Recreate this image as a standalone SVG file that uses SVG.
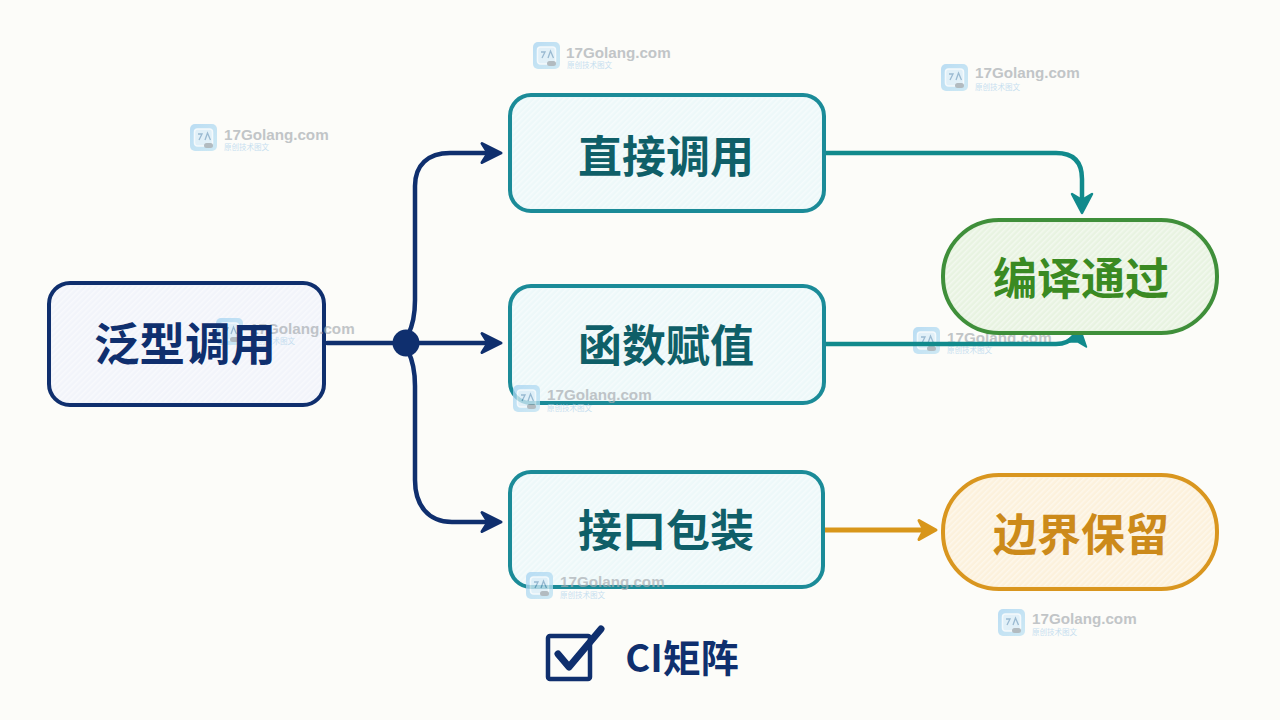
<svg xmlns="http://www.w3.org/2000/svg" width="1280" height="720" viewBox="0 0 1280 720">
<style>
.t{font-family:"Noto Sans CJK SC","Noto Sans",sans-serif;font-weight:700;text-anchor:middle;dominant-baseline:central}
.b{stroke-width:4}
.h{fill:url(#hatch);stroke:none}
.n{fill:none;stroke:#0f2f6e;stroke-width:4.500;stroke-linecap:round}
.g{fill:none;stroke:#118a8c;stroke-width:4.500;stroke-linecap:round}
.o{fill:none;stroke:#d8961a;stroke-width:5;stroke-linecap:butt}
.wm1{font-family:"Liberation Sans",Arial,sans-serif;font-weight:700;font-size:15.200px;fill:#a9aeb3;opacity:.7}
.wm2{font-family:"Noto Sans CJK SC",sans-serif;font-size:7.500px;fill:#b9d8ee;opacity:.8}
</style>
<defs>
<pattern id="hatch" width="4" height="4" patternUnits="userSpaceOnUse" patternTransform="rotate(-45)">
<rect width="4" height="1.500" fill="#ffffff" opacity=".45"/>
</pattern>
<linearGradient id="ic" x1="0" y1="0" x2="1" y2="1"><stop offset="0" stop-color="#a5d3f2"/><stop offset="1" stop-color="#bfe3f3"/></linearGradient>
<g id="icon" opacity=".75">
<rect width="27" height="27" rx="5" fill="url(#ic)"/>
<rect x="4.500" y="5" width="18" height="17" rx="3" fill="#d8ecf8" stroke="#f2f9fd" stroke-width="1.500"/>
<path d="M8 10h4l-3 6M15 16l2.500-7 3 7" fill="none" stroke="#7aa4c4" stroke-width="1.300"/>
<rect x="14" y="19" width="9" height="5" rx="2.500" fill="#9aa6ae"/>
</g>
<marker id="an" markerUnits="userSpaceOnUse" markerWidth="32" markerHeight="34" refX="18" refY="17" orient="auto">
<path d="M6 7.500 L25 17 L6 26.500 L12 17 Z" fill="#0f2f6e" stroke="#0f2f6e" stroke-width="3" stroke-linejoin="round"/>
</marker>
<marker id="ag" markerUnits="userSpaceOnUse" markerWidth="32" markerHeight="34" refX="18" refY="17" orient="auto">
<path d="M6 7 L25 17 L6 27 L12 17 Z" fill="#118a8c" stroke="#118a8c" stroke-width="2.500" stroke-linejoin="round"/>
</marker>
<marker id="ao" markerUnits="userSpaceOnUse" markerWidth="32" markerHeight="34" refX="18" refY="17" orient="auto">
<path d="M8 7.500 L25 17 L8 26.500 L13 17 Z" fill="#d8961a" stroke="#d8961a" stroke-width="3" stroke-linejoin="round"/>
</marker>
</defs>
<rect width="1280" height="720" fill="#fcfcf9"/>

<g id="watermark-under">
<use href="#icon" x="913" y="327"/><text class="wm1" x="947" y="343">17Golang.com</text><text class="wm2" x="947" y="353">原创技术图文</text>
</g>

<g id="connectors">
<path class="n" d="M327 343H494" marker-end="url(#an)"/>
<path class="n" d="M408 335C413 325 415 315 415 300V186C415 165 428 153 450 153H494" marker-end="url(#an)"/>
<path class="n" d="M408 351C413 361 415 371 415 386V480C415 505 428 522 452 522H494" marker-end="url(#an)"/>
<circle cx="406" cy="343" r="13.500" fill="#0f2f6e"/>
<path class="g" d="M826 153H1056Q1082 153 1082 179V206" marker-end="url(#ag)"/>
<path class="g" d="M826 344H1056Q1068 344 1076 335"/>
<path d="M1080 328L1086.500 347L1078 342L1066 342Z" fill="#118a8c" stroke="#118a8c" stroke-width="1.500" stroke-linejoin="round"/>
<path class="o" d="M825 530H929" marker-end="url(#ao)"/>
</g>

<g id="node-generic">
<rect class="b" x="49" y="283" width="275" height="122" rx="21" fill="#f2f4fa" stroke="#0f2f6e"/>
<rect class="h" x="52" y="286" width="269" height="116" rx="18"/>
<use href="#icon" x="216" y="318"/><text class="wm1" x="250" y="334">17Golang.com</text><text class="wm2" x="250" y="344">原创技术图文</text>
<text class="t" x="185" y="341" font-size="45.500" fill="#0f2f6e">泛型调用</text>
</g>
<g id="node-direct">
<rect class="b" x="510" y="95" width="314" height="116" rx="21" fill="#edf8f9" stroke="#1b8b98"/>
<rect class="h" x="513" y="98" width="308" height="110" rx="18"/>
<text class="t" x="666" y="154" font-size="44" fill="#0f5f68">直接调用</text>
</g>
<g id="node-assign">
<rect class="b" x="510" y="286" width="314" height="117" rx="21" fill="#edf8f9" stroke="#1b8b98"/>
<rect class="h" x="513" y="289" width="308" height="111" rx="18"/>
<text class="t" x="666" y="343" font-size="44" fill="#0f5f68">函数赋值</text>
</g>
<g id="node-interface">
<rect class="b" x="510" y="472" width="313" height="115" rx="21" fill="#edf8f9" stroke="#1b8b98"/>
<rect class="h" x="513" y="475" width="307" height="109" rx="18"/>
<text class="t" x="666" y="528" font-size="44" fill="#0f5f68">接口包装</text>
</g>
<g id="node-pass">
<rect class="b" x="943" y="220" width="274" height="113" rx="56" fill="#e8f3e1" stroke="#3f8f3a"/>
<rect class="h" x="946" y="223" width="268" height="107" rx="53"/>
<text class="t" x="1081" y="276" font-size="44" fill="#3a8a22">编译通过</text>
</g>
<g id="node-boundary">
<rect class="b" x="943" y="475" width="274" height="114" rx="56" fill="#fcf1dc" stroke="#d9961f"/>
<rect class="h" x="946" y="478" width="268" height="108" rx="53"/>
<text class="t" x="1081" y="532" font-size="44" fill="#cc8a1a">边界保留</text>
</g>
<g id="node-ci">
<rect x="548" y="636" width="42" height="43" rx="2" fill="none" stroke="#0f2f6e" stroke-width="4.500"/>
<path d="M558 654L569 667L601 629" fill="none" stroke="#0f2f6e" stroke-width="7" stroke-linecap="round" stroke-linejoin="round"/>
<text class="t" x="682" y="655" font-size="38" fill="#0f2f6e">CI矩阵</text>
</g>

<g id="watermarks">
<use href="#icon" x="190" y="124"/><text class="wm1" x="224" y="140">17Golang.com</text><text class="wm2" x="224" y="150">原创技术图文</text>
<use href="#icon" x="533" y="42"/><text class="wm1" x="566" y="58">17Golang.com</text><text class="wm2" x="567" y="68">原创技术图文</text>
<use href="#icon" x="941" y="64"/><text class="wm1" x="975" y="78">17Golang.com</text><text class="wm2" x="975" y="90">原创技术图文</text>
<use href="#icon" x="513" y="385"/><text class="wm1" x="547" y="400">17Golang.com</text><text class="wm2" x="547" y="411">原创技术图文</text>
<use href="#icon" x="526" y="572"/><text class="wm1" x="560" y="587">17Golang.com</text><text class="wm2" x="560" y="598">原创技术图文</text>
<use href="#icon" x="998" y="609"/><text class="wm1" x="1032" y="624">17Golang.com</text><text class="wm2" x="1032" y="635">原创技术图文</text>
</g>
</svg>
